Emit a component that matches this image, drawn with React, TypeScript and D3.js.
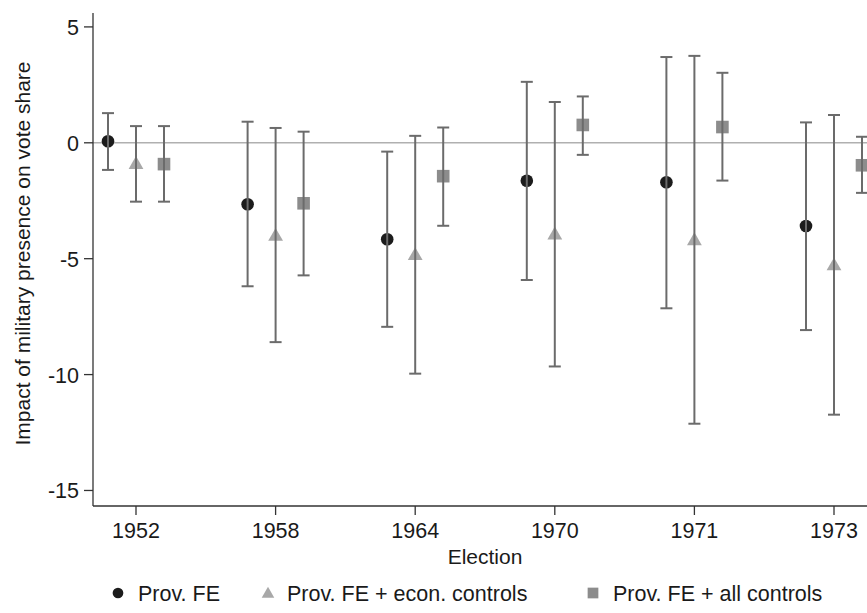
import React from "react";
import * as d3 from "d3";

const elections = ["1952", "1958", "1964", "1970", "1971", "1973"];
const yTicks = [5, 0, -5, -10, -15];

// Prov. FE
const feEst = [0.07, -2.65, -4.16, -1.64, -1.7, -3.59];
const feLo = [-1.17, -6.19, -7.94, -5.92, -7.14, -8.08];
const feHi = [1.28, 0.91, -0.38, 2.63, 3.7, 0.88];
// Prov. FE + econ. controls
const econEst = [-0.9, -4.0, -4.83, -3.94, -4.19, -5.27];
const econLo = [-2.54, -8.6, -9.96, -9.65, -12.12, -11.73];
const econHi = [0.72, 0.64, 0.3, 1.76, 3.75, 1.2];
// Prov. FE + all controls
const allEst = [-0.92, -2.61, -1.44, 0.77, 0.68, -0.97];
const allLo = [-2.54, -5.72, -3.58, -0.52, -1.63, -2.16];
const allHi = [0.72, 0.48, 0.66, 2.0, 3.02, 0.26];

const legendLabels = ["Prov. FE", "Prov. FE + econ. controls", "Prov. FE + all controls"];

const W = 867;
const H = 613;
const axisX = 93;
const plotRight = 877;
const plotTop = 13;
const plotBottom = 506;
const FONT = "'Liberation Sans', Arial, Helvetica, sans-serif";
const BAR = "#6b6b6b";
const C_FE = "#1c1c1c";
const C_ECON = "#a8a8a8";
const C_ALL = "#8c8c8c";
const FS = 21.5;

export default function App() {
  const y = d3.scaleLinear().domain([-15.67, 5.6]).range([plotBottom, plotTop]);
  const x = d3.scalePoint<string>().domain(elections).range([136, 834]);
  const off = 28;

  const series = [
    { est: feEst, lo: feLo, hi: feHi, dx: -off, shape: "circle", color: C_FE },
    { est: econEst, lo: econLo, hi: econHi, dx: 0, shape: "triangle", color: C_ECON },
    { est: allEst, lo: allLo, hi: allHi, dx: off, shape: "square", color: C_ALL },
  ];

  const tri = d3.symbol().type(d3.symbolTriangle).size(95)();

  const marker = (shape: string, color: string, cx: number, cy: number, key: string, scale = 1) => {
    if (shape === "circle") return <circle key={key} cx={cx} cy={cy} r={6.3 * scale} fill={color} />;
    if (shape === "square") {
      const s = 12.6 * scale;
      return <rect key={key} x={cx - s / 2} y={cy - s / 2} width={s} height={s} fill={color} />;
    }
    return (
      <path key={key} d={tri as string} transform={`translate(${cx},${cy + 1}) scale(${scale})`} fill={color} />
    );
  };

  const legendItems = [
    { shape: "circle", color: C_FE, mx: 118, tx: 138 },
    { shape: "triangle", color: C_ECON, mx: 268, tx: 287 },
    { shape: "square", color: C_ALL, mx: 593, tx: 613 },
  ];
  const legendY = 593;

  return (
    <div style={{ position: "absolute", left: 0, top: 0 }}>
      <svg width={W} height={H} style={{ display: "block", background: "#fff" }} fontFamily={FONT}>
        {/* zero line */}
        <line x1={axisX} x2={W} y1={y(0)} y2={y(0)} stroke="#b0b0b0" strokeWidth={1.6} />

        {/* markers */}
        {series.map((s, si) =>
          elections.map((e, i) => marker(s.shape, s.color, (x(e) as number) + s.dx, y(s.est[i]), `m${si}-${i}`))
        )}

        {/* error bars */}
        {series.map((s, si) =>
          elections.map((e, i) => {
            const cx = (x(e) as number) + s.dx;
            return (
              <g key={`b${si}-${i}`} stroke={BAR} strokeWidth={2}>
                <line x1={cx} x2={cx} y1={y(s.lo[i])} y2={y(s.hi[i])} />
                <line x1={cx - 6} x2={cx + 6} y1={y(s.lo[i])} y2={y(s.lo[i])} />
                <line x1={cx - 6} x2={cx + 6} y1={y(s.hi[i])} y2={y(s.hi[i])} />
              </g>
            );
          })
        )}

        {/* y axis */}
        <line x1={axisX} x2={axisX} y1={plotTop} y2={plotBottom} stroke="#333" strokeWidth={1.3} />
        {yTicks.map((t) => (
          <g key={`yt${t}`}>
            <line x1={axisX - 9} x2={axisX} y1={y(t)} y2={y(t)} stroke="#333" strokeWidth={1.3} />
            <text x={79} y={y(t) + 8} textAnchor="end" fontSize={FS} fill="#1a1a1a">
              {t}
            </text>
          </g>
        ))}
        <text
          transform={`translate(30,${(plotTop + plotBottom) / 2 - 6}) rotate(-90)`}
          textAnchor="middle"
          fontSize={21}
          fill="#1a1a1a"
        >
          Impact of military presence on vote share
        </text>

        {/* x axis */}
        <line x1={axisX} x2={W} y1={plotBottom} y2={plotBottom} stroke="#333" strokeWidth={1.3} />
        {elections.map((e) => (
          <g key={`xt${e}`}>
            <line x1={x(e)} x2={x(e)} y1={plotBottom} y2={plotBottom + 9} stroke="#333" strokeWidth={1.3} />
            <text x={x(e)} y={538} textAnchor="middle" fontSize={FS} fill="#1a1a1a">
              {e}
            </text>
          </g>
        ))}
        <text x={(axisX + plotRight) / 2} y={564} textAnchor="middle" fontSize={21} fill="#1a1a1a">
          Election
        </text>

        {/* legend */}
        {legendItems.map((l, i) => (
          <g key={`lg${i}`}>
            {marker(l.shape, l.color, l.mx, legendY, `lm${i}`, 0.85)}
            <text x={l.tx} y={legendY + 7.5} fontSize={21.5} fill="#1a1a1a">
              {legendLabels[i]}
            </text>
          </g>
        ))}
      </svg>
    </div>
  );
}
